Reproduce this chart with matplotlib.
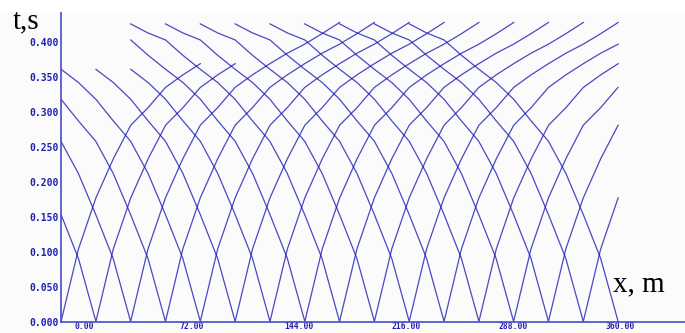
import matplotlib
matplotlib.use('Agg')
import matplotlib.pyplot as plt
from matplotlib.patches import Rectangle

# shot points along the line, m
shots = [-15.4, 8.0, 31.3, 54.7, 78.1, 101.5, 124.9, 148.3, 171.6,
         195.0, 218.4, 241.8, 265.2, 288.5, 311.9, 335.3, 358.7]

# picked first arrivals: offset from shot (m) and time (s)
offsets = [0, 11.7, 23.4, 35.1, 46.8, 58.4, 70.1, 81.8, 93.5, 105.2, 116.9, 128.6, 140.3]
t_left = [0, 0.090, 0.153, 0.212, 0.258, 0.287, 0.318, 0.342, 0.361, 0.381, 0.403, 0.413, 0.426]
t_right = [0, 0.104, 0.177, 0.233, 0.281, 0.306, 0.335, 0.353, 0.369, 0.384, 0.397, 0.412, 0.428]

# how many shot spacings each branch was recorded over
len_left = [0, 1, 2, 3, 4, 4, 4, 5, 6, 6, 6, 6, 6, 6, 6, 6, 6]
len_right = [4, 4, 6, 6, 6, 6, 6, 6, 6, 6, 6, 5, 4, 3, 2, 1, 0]

x_ticks = [0, 72, 144, 216, 288, 360]
y_ticks = [0, 0.05, 0.10, 0.15, 0.20, 0.25, 0.30, 0.35, 0.40]

blue = '#1c1cb4'
label_blue = '#2020b0'

fig = plt.figure(figsize=(6.85, 3.33), dpi=100, facecolor='#fbfbfb')
# white strip at the very top
fig.patches.append(Rectangle((0, 1 - 12 / 333), 1, 12 / 333, transform=fig.transFigure,
                             facecolor='white', edgecolor='none', zorder=0))

ax = fig.add_axes([61 / 685, 11.5 / 333, 624 / 685, 309.5 / 333])
ax.set_facecolor('#fbfbfb')

for i, s in enumerate(shots):
    nl = 2 * len_left[i] + 1
    nr = 2 * len_right[i] + 1
    xs = [s - o for o in offsets[:nl]][::-1] + [s + o for o in offsets[1:nr]]
    ts = t_left[:nl][::-1] + t_right[1:nr]
    ax.plot(xs, ts, color=blue, lw=0.9, alpha=0.8, solid_joinstyle='round')

ax.set_xlim(-15.45, 403.6)
ax.set_ylim(0, 0.443)

ax.set_xticks(x_ticks)
ax.set_xticklabels(['%.2f' % v for v in x_ticks])
ax.set_yticks(y_ticks)
ax.set_yticklabels(['%.3f' % v for v in y_ticks])
ax.tick_params(length=0, labelcolor=label_blue)
ax.tick_params(axis='y', pad=1.5, labelsize=7)
ax.tick_params(axis='x', pad=0.3, labelsize=5.8)
for lab in ax.get_xticklabels() + ax.get_yticklabels():
    lab.set_fontweight('bold')
    lab.set_family('DejaVu Sans Mono')

for side in ['top', 'right']:
    ax.spines[side].set_visible(False)
for side in ['left', 'bottom']:
    ax.spines[side].set_color('#4a4ac8')
    ax.spines[side].set_linewidth(1.2)

fig.text(13 / 685, 1 - 28 / 333, 't,s', family='Liberation Serif', fontsize=21, va='baseline')
fig.text(613 / 685, 1 - 291 / 333, 'x, m', family='Liberation Serif', fontsize=21, va='baseline')

fig.savefig('out.png', dpi=100, facecolor=fig.get_facecolor())
